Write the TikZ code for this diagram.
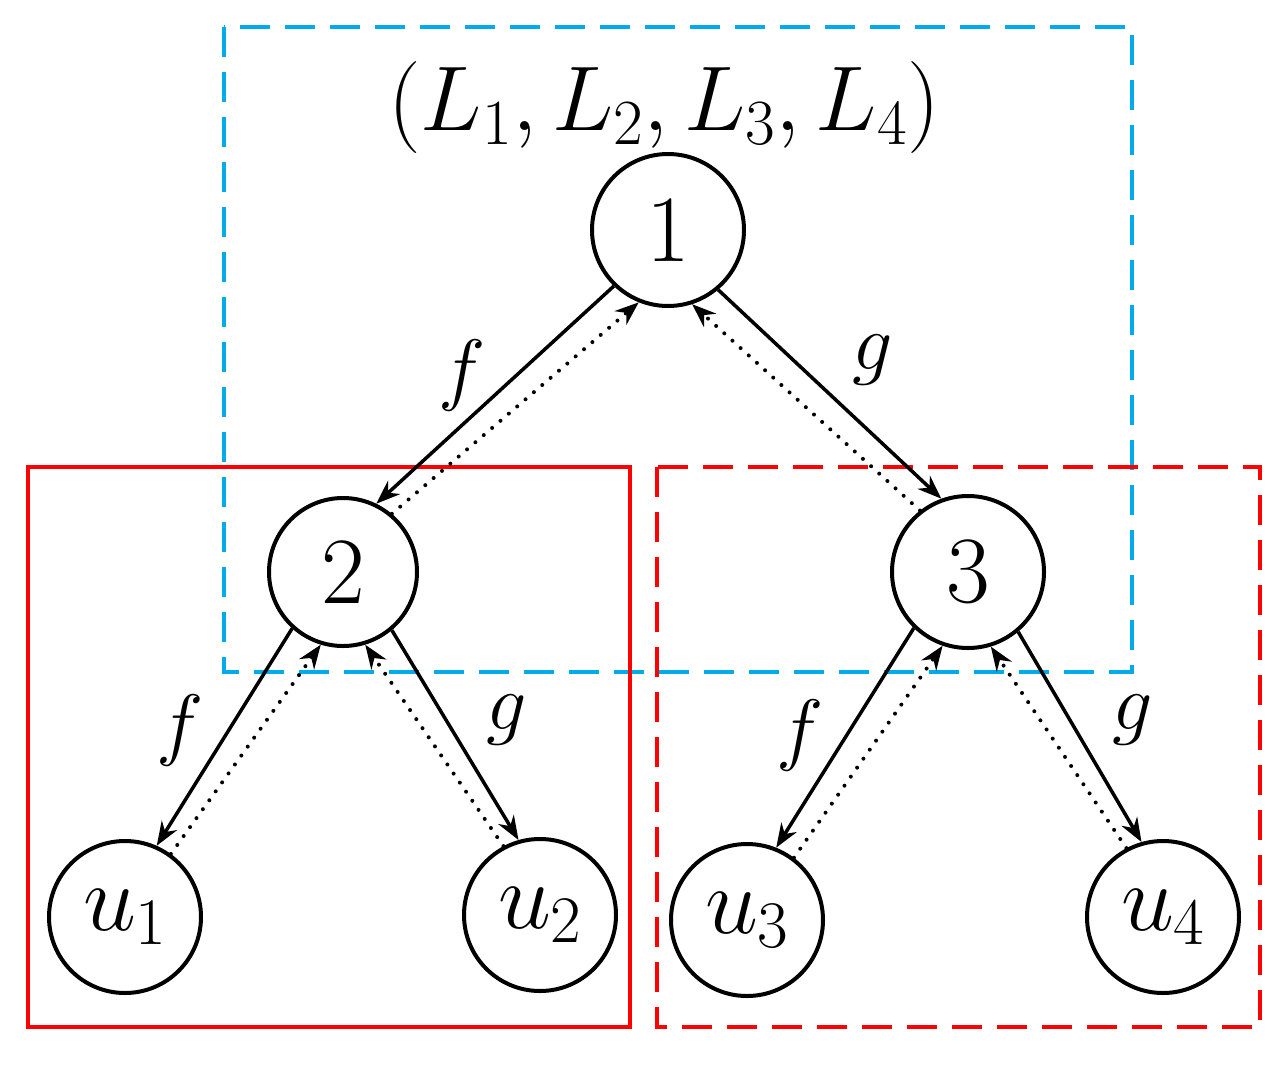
\RequirePackage{fix-cm}
\documentclass[tikz,border=0pt]{standalone}
\usetikzlibrary{arrows.meta}
\begin{document}
\begin{tikzpicture}[x=1pt,y=-1pt,
  nd/.style={circle,draw,line width=4pt,inner sep=0pt},
  sol/.style={line width=3.5pt,-{Stealth[length=24pt,width=18pt]}},
  dot/.style={line width=4pt,line cap=round,dash pattern=on 0pt off 11pt,-{Stealth[length=24pt,width=18pt]}},
  lab/.style={font=\fontsize{80}{80}\selectfont}]
\useasboundingbox (0,0) rectangle (1279,1065);
\draw[line width=4pt,dash pattern=on 30pt off 15pt,color={rgb,255:red,0;green,170;blue,235}] (224,27) rectangle (1132,672);
\draw[line width=4pt,red] (28,467) rectangle (630,1027);
\draw[line width=4pt,red,dash pattern=on 30pt off 15pt] (657,467) rectangle (1260,1027);
\node[font=\fontsize{92}{92}\selectfont] (L) at (664,108) {$(L_1,L_2,L_3,L_4)$};
\node[nd,minimum size=152pt,font=\fontsize{95}{95}\selectfont] (n1) at (668,230) {1};
\node[nd,minimum size=148pt,font=\fontsize{95}{95}\selectfont] (n2) at (343,572) {2};
\node[nd,minimum size=152pt,font=\fontsize{95}{95}\selectfont] (n3) at (968,572) {3};
\node[nd,minimum size=152pt,font=\fontsize{95}{95}\selectfont] (u1) at (125,917) {$u_1$};
\node[nd,minimum size=152pt,font=\fontsize{95}{95}\selectfont] (u2) at (540,915) {$u_2$};
\node[nd,minimum size=152pt,font=\fontsize{95}{95}\selectfont] (u3) at (747,920) {$u_3$};
\node[nd,minimum size=152pt,font=\fontsize{95}{95}\selectfont] (u4) at (1163,917) {$u_4$};
\draw[sol] (n1.226) -- (n2.64);
\draw[dot] (n2.50) -- (n1.248);
\draw[sol] (n1.310) -- (n3.110);
\draw[dot] (n3.128) -- (n1.288);
\draw[sol] (n2.228) -- (u1.66);
\draw[dot] (u1.54) -- (n2.253);
\draw[sol] (n2.310) -- (u2.106);
\draw[dot] (u2.118) -- (n2.287);
\draw[sol] (n3.226) -- (u3.68);
\draw[dot] (u3.53) -- (n3.251);
\draw[sol] (n3.310) -- (u4.106);
\draw[dot] (u4.118) -- (n3.287);
\node[lab] (f1) at (462,375) {$f$};
\node[lab] (g1) at (873,360) {$g$};
\node[lab] (f2) at (180,730) {$f$};
\node[lab] (g2) at (507,720) {$g$};
\node[lab] (f3) at (800,735) {$f$};
\node[lab] (g3) at (1133,720) {$g$};
\end{tikzpicture}
\end{document}
